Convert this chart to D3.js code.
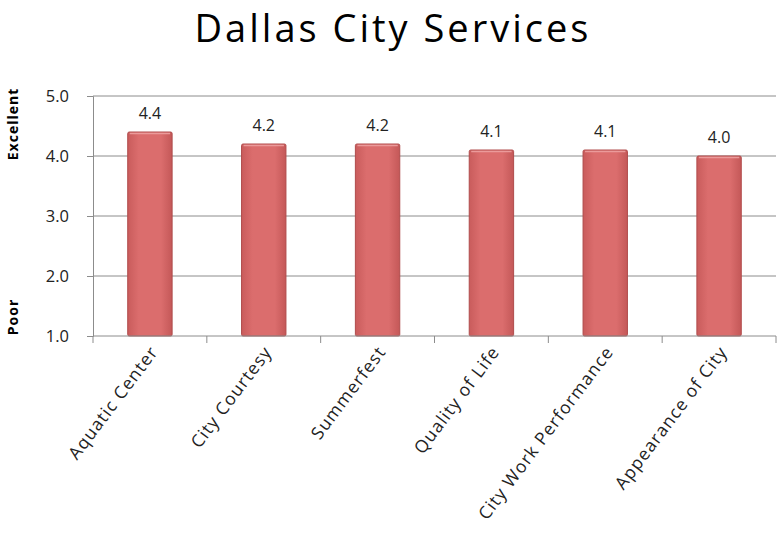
<!DOCTYPE html>
<html>
<head>
<meta charset="utf-8">
<script src="https://cdn.jsdelivr.net/npm/d3@7"></script>
<style>
  body { margin: 0; background: #fff; }
  text { font-family: "Open Sans", "Noto Sans", sans-serif; }
</style>
</head>
<body>
<div id="chart"></div>
<script>
// data
let categories = ["Aquatic Center", "City Courtesy", "Summerfest", "Quality of Life", "City Work Performance", "Appearance of City"];
let ratings = [4.4, 4.2, 4.2, 4.1, 4.1, 4.0];
let yTicks = [1.0, 2.0, 3.0, 4.0, 5.0];

let W = 779, H = 533;
let margin = {top: 96, right: 3, bottom: 197, left: 93};
let width = W - margin.left - margin.right;
let height = H - margin.top - margin.bottom;

let svg = d3.select("#chart").append("svg")
    .attr("width", W)
    .attr("height", H);

// bar gradient
let defs = svg.append("defs");
let grad = defs.append("linearGradient")
    .attr("id", "barGrad")
    .attr("x1", "0").attr("x2", "1").attr("y1", "0").attr("y2", "0");
grad.append("stop").attr("offset", "0%").attr("stop-color", "#c95c5c");
grad.append("stop").attr("offset", "25%").attr("stop-color", "#db6d6d");
grad.append("stop").attr("offset", "75%").attr("stop-color", "#db6d6d");
grad.append("stop").attr("offset", "100%").attr("stop-color", "#c45858");

// title
svg.append("text")
    .attr("x", 393)
    .attr("y", 42)
    .attr("text-anchor", "middle")
    .attr("font-size", 38)
    .attr("letter-spacing", 3)
    .attr("fill", "#000")
    .text("Dallas City Services");

let g = svg.append("g")
    .attr("transform", "translate(" + margin.left + "," + margin.top + ")");

let x = d3.scaleBand()
    .domain(categories)
    .range([0, width])
    .paddingInner(0.61)
    .paddingOuter(0.305);

let y = d3.scaleLinear()
    .domain([1, 5])
    .range([height, 0]);

// gridlines
g.selectAll(".grid")
    .data(yTicks.slice(1))
    .enter().append("line")
    .attr("class", "grid")
    .attr("x1", 0).attr("x2", width)
    .attr("y1", d => y(d)).attr("y2", d => y(d))
    .attr("stroke", "#8c8c8c")
    .attr("stroke-width", 1);

// bars
g.selectAll(".bar")
    .data(ratings)
    .enter().append("rect")
    .attr("class", "bar")
    .attr("x", (d, i) => x(categories[i]))
    .attr("y", d => y(d))
    .attr("width", x.bandwidth())
    .attr("height", d => y(1) - y(d))
    .attr("fill", "url(#barGrad)")
    .attr("stroke", "#b04c4c")
    .attr("stroke-width", 1)
    .attr("rx", 1.5);

// light top edge on bars
g.selectAll(".bartop")
    .data(ratings)
    .enter().append("line")
    .attr("class", "bartop")
    .attr("x1", (d, i) => x(categories[i]) + 2)
    .attr("x2", (d, i) => x(categories[i]) + x.bandwidth() - 2)
    .attr("y1", d => y(d) + 1.5)
    .attr("y2", d => y(d) + 1.5)
    .attr("stroke", "#eb9a9a")
    .attr("stroke-width", 1.5);

// value labels
g.selectAll(".val")
    .data(ratings)
    .enter().append("text")
    .attr("class", "val")
    .attr("x", (d, i) => x(categories[i]) + x.bandwidth() / 2)
    .attr("y", d => y(d) - 13)
    .attr("text-anchor", "middle")
    .attr("font-size", 16)
    .attr("fill", "#222")
    .text(d => d.toFixed(1));

// y axis
let yAxis = d3.axisLeft(y)
    .tickValues(yTicks)
    .tickFormat(d3.format(".1f"))
    .tickSize(6)
    .tickPadding(18);
let yg = g.append("g").call(yAxis);
yg.select(".domain").attr("stroke", "#8c8c8c");
yg.selectAll(".tick line").attr("stroke", "#8c8c8c");
yg.selectAll(".tick text")
    .attr("font-size", 16.5)
    .attr("fill", "#222")
    .style("font-family", "'Open Sans', sans-serif");

// x axis with boundary ticks
let xg = g.append("g").attr("transform", "translate(0," + height + ")");
xg.append("line")
    .attr("x1", 0).attr("x2", width)
    .attr("stroke", "#8c8c8c");
let step = x.step();
xg.selectAll(".xtick")
    .data(d3.range(categories.length + 1))
    .enter().append("line")
    .attr("class", "xtick")
    .attr("x1", i => i * step).attr("x2", i => i * step)
    .attr("y1", 0).attr("y2", 7)
    .attr("stroke", "#8c8c8c");

xg.selectAll(".xlab")
    .data(categories)
    .enter().append("text")
    .attr("class", "xlab")
    .attr("transform", d => "translate(" + (x(d) + x.bandwidth() / 2 + 9) + ",16) rotate(-53)")
    .attr("text-anchor", "end")
    .attr("font-size", 17.5)
    .attr("letter-spacing", 1.1)
    .attr("fill", "#222")
    .text(d => d);

// side labels
svg.append("text")
    .attr("transform", "translate(18,124) rotate(-90)")
    .attr("text-anchor", "middle")
    .attr("font-size", 14)
    .attr("letter-spacing", 1)
    .attr("font-weight", "bold")
    .attr("fill", "#000")
    .text("Excellent");

svg.append("text")
    .attr("transform", "translate(18,317) rotate(-90)")
    .attr("text-anchor", "middle")
    .attr("font-size", 14)
    .attr("letter-spacing", 1)
    .attr("font-weight", "bold")
    .attr("fill", "#000")
    .text("Poor");
</script>
</body>
</html>
